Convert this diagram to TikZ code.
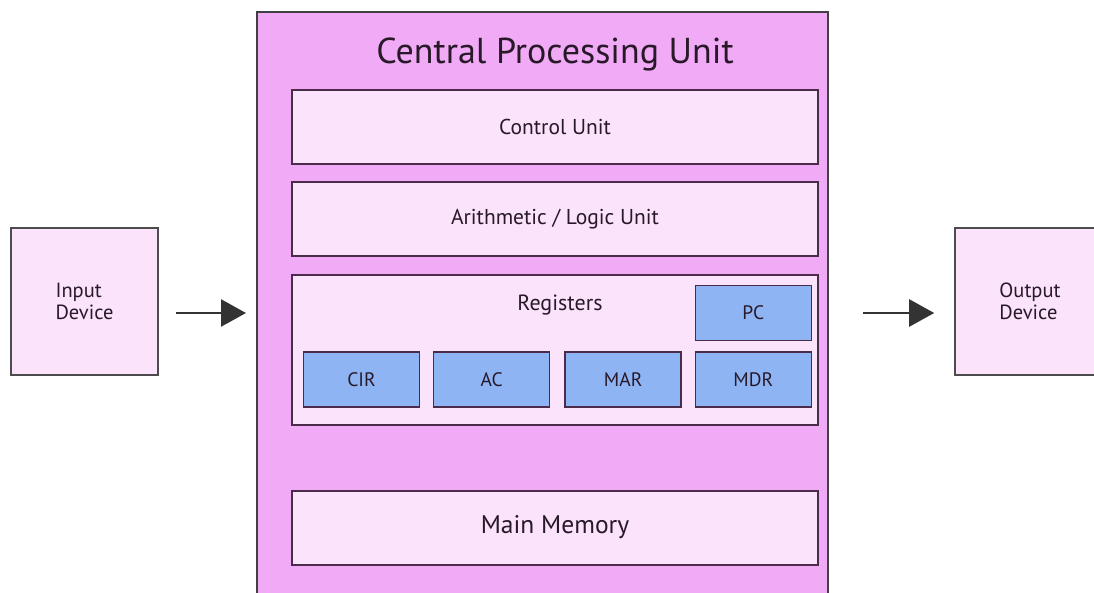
\documentclass[tikz,border=0pt]{standalone}
\usepackage{fontspec}
\setmainfont{PT Sans}
\usepackage{xcolor}
\usetikzlibrary{arrows.meta,positioning}

\definecolor{cpurosa}{RGB}{241,170,246}
\definecolor{claro}{RGB}{250,227,251}
\definecolor{regazul}{RGB}{142,180,244}
\definecolor{borda}{RGB}{74,44,74}
\definecolor{texto}{RGB}{40,25,40}

\begin{document}
\begin{tikzpicture}[x=1pt, y=1pt, node distance=12.5pt,
  bloco/.style={draw=borda, line width=2pt, fill=claro, minimum width=526pt, minimum height=74pt, font=\fontsize{21.5}{25}\selectfont, text=texto},
  registro/.style={draw=borda, line width=1.6pt, fill=regazul, minimum width=116pt, minimum height=55pt, font=\fontsize{19.5}{23}\selectfont, text=texto},
  disp/.style={draw=black!70, line width=1.6pt, fill=claro, minimum width=147pt, minimum height=147pt, align=left, font=\fontsize{20.5}{22.5}\selectfont, text=texto},
  seta/.style={-{Triangle[length=25pt, width=27pt]}, line width=2.5pt, draw=black!80}]
\useasboundingbox (0,0) rectangle (1094,592);
\clip (0,0) rectangle (1094,592);
\node[draw=black!75, line width=2pt, fill=cpurosa, minimum width=571pt, minimum height=620pt] (cpu) at (542.5,270) {};
\node[font=\fontsize{36}{40}\selectfont, text=texto] (titulo) at (555,537) {Central Processing Unit};
\node[bloco] (cu) at (555,465) {Control Unit};
\node[bloco, below=16pt of cu] (alu) {Arithmetic / Logic Unit};
\node[bloco, minimum height=150pt, below=17pt of alu] (regs) {};
\node[font=\fontsize{22}{26}\selectfont, text=texto] (regtxt) at (560,287) {Registers};
\node[registro] (cir) at (361.5,212.5) {CIR};
\node[registro, right=of cir] (ac) {AC};
\node[registro, right=14pt of ac] (mar) {MAR};
\node[registro, right=of mar] (mdr) {MDR};
\node[registro, above=10pt of mdr] (pc) {PC};
\node[bloco, font=\fontsize{25.5}{30}\selectfont] (mem) at (555,64.5) {Main Memory};
\node[disp] (inp) at (84.5,290.5) {Input\\Device};
\node[disp, minimum width=150pt] (out) at (1030,290.5) {Output\\Device};
\draw[seta] ([yshift=-11.5pt]inp.east) ++(17pt,0) -- ([yshift=-11.5pt, xshift=-10pt]inp.east -| cpu.west);
\draw[seta] ([yshift=-11.5pt, xshift=34pt]out.west -| cpu.east) -- ([yshift=-11.5pt, xshift=-20pt]out.west);
\end{tikzpicture}
\end{document}
